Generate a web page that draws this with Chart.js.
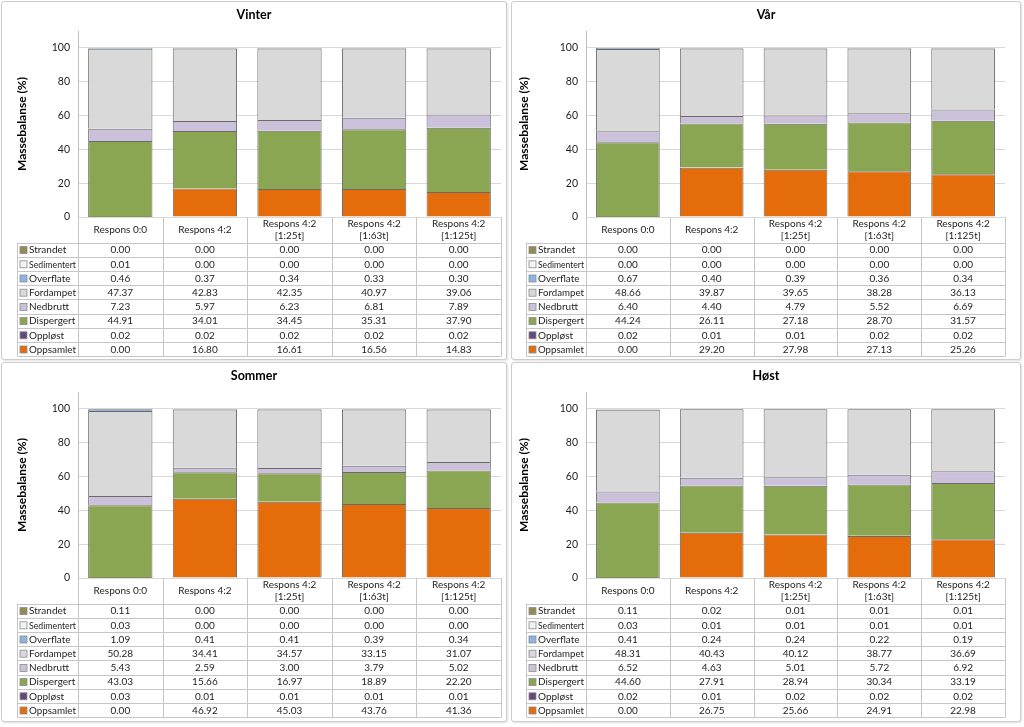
<!DOCTYPE html>
<html><head><meta charset="utf-8">
<script src="https://cdn.jsdelivr.net/npm/chart.js@4.4.1/dist/chart.umd.min.js"></script>
<style>
body{margin:0;background:#fff;width:1024px;height:727px;position:relative;overflow:hidden;font-family:Lato,sans-serif}
.panel{position:absolute;border:1px solid #cdcdcd;border-radius:3px;box-shadow:1px 1px 2px rgba(0,0,0,0.12);background:#fff}
.panel canvas{position:absolute;left:0;top:0}
</style></head><body>
<div class="panel" style="left:1px;top:1px;width:504px;height:357px"><canvas id="c0" width="504" height="357"></canvas></div>
<div class="panel" style="left:511px;top:1px;width:508px;height:357px"><canvas id="c1" width="508" height="357"></canvas></div>
<div class="panel" style="left:1px;top:362px;width:504px;height:358px"><canvas id="c2" width="504" height="358"></canvas></div>
<div class="panel" style="left:511px;top:362px;width:508px;height:358px"><canvas id="c3" width="508" height="358"></canvas></div>
<script>
// ---- categories & labels ----
const categories = [['Respons 0:0'], ['Respons 4:2'], ['Respons 4:2', '[1:25t]'], ['Respons 4:2', '[1:63t]'], ['Respons 4:2', '[1:125t]']];
const seriesNames = ['Strandet', 'Sedimentert', 'Overflate', 'Fordampet', 'Nedbrutt', 'Dispergert', 'Oppløst', 'Oppsamlet'];
const seriesColors = ['#948A54', '#F2F2F2', '#8EB4E3', '#D9D9D9', '#CCC1DA', '#8AA652', '#604A7B', '#E46C0A'];
const yTicks = [0, 20, 40, 60, 80, 100];
const panelTitles = ['Vinter', 'Vår', 'Sommer', 'Høst'];

// ---- Vinter ----
const vinterStrandet    = [0.00, 0.00, 0.00, 0.00, 0.00];
const vinterSedimentert = [0.01, 0.00, 0.00, 0.00, 0.00];
const vinterOverflate   = [0.46, 0.37, 0.34, 0.33, 0.30];
const vinterFordampet   = [47.37, 42.83, 42.35, 40.97, 39.06];
const vinterNedbrutt    = [7.23, 5.97, 6.23, 6.81, 7.89];
const vinterDispergert  = [44.91, 34.01, 34.45, 35.31, 37.90];
const vinterOppløst     = [0.02, 0.02, 0.02, 0.02, 0.02];
const vinterOppsamlet   = [0.00, 16.80, 16.61, 16.56, 14.83];
// ---- Vår ----
const vaarStrandet    = [0.00, 0.00, 0.00, 0.00, 0.00];
const vaarSedimentert = [0.00, 0.00, 0.00, 0.00, 0.00];
const vaarOverflate   = [0.67, 0.40, 0.39, 0.36, 0.34];
const vaarFordampet   = [48.66, 39.87, 39.65, 38.28, 36.13];
const vaarNedbrutt    = [6.40, 4.40, 4.79, 5.52, 6.69];
const vaarDispergert  = [44.24, 26.11, 27.18, 28.70, 31.57];
const vaarOppløst     = [0.02, 0.01, 0.01, 0.02, 0.02];
const vaarOppsamlet   = [0.00, 29.20, 27.98, 27.13, 25.26];
// ---- Sommer ----
const sommerStrandet    = [0.11, 0.00, 0.00, 0.00, 0.00];
const sommerSedimentert = [0.03, 0.00, 0.00, 0.00, 0.00];
const sommerOverflate   = [1.09, 0.41, 0.41, 0.39, 0.34];
const sommerFordampet   = [50.28, 34.41, 34.57, 33.15, 31.07];
const sommerNedbrutt    = [5.43, 2.59, 3.00, 3.79, 5.02];
const sommerDispergert  = [43.03, 15.66, 16.97, 18.89, 22.20];
const sommerOppløst     = [0.03, 0.01, 0.01, 0.01, 0.01];
const sommerOppsamlet   = [0.00, 46.92, 45.03, 43.76, 41.36];
// ---- Høst ----
const hoestStrandet    = [0.11, 0.02, 0.01, 0.01, 0.01];
const hoestSedimentert = [0.03, 0.01, 0.01, 0.01, 0.01];
const hoestOverflate   = [0.41, 0.24, 0.24, 0.22, 0.19];
const hoestFordampet   = [48.31, 40.43, 40.12, 38.77, 36.69];
const hoestNedbrutt    = [6.52, 4.63, 5.01, 5.72, 6.92];
const hoestDispergert  = [44.60, 27.91, 28.94, 30.34, 33.19];
const hoestOppløst     = [0.02, 0.01, 0.02, 0.02, 0.02];
const hoestOppsamlet   = [0.00, 26.75, 25.66, 24.91, 22.98];

const panelSeries = [
  [vinterStrandet, vinterSedimentert, vinterOverflate, vinterFordampet, vinterNedbrutt, vinterDispergert, vinterOppløst, vinterOppsamlet],
  [vaarStrandet, vaarSedimentert, vaarOverflate, vaarFordampet, vaarNedbrutt, vaarDispergert, vaarOppløst, vaarOppsamlet],
  [sommerStrandet, sommerSedimentert, sommerOverflate, sommerFordampet, sommerNedbrutt, sommerDispergert, sommerOppløst, sommerOppsamlet],
  [hoestStrandet, hoestSedimentert, hoestOverflate, hoestFordampet, hoestNedbrutt, hoestDispergert, hoestOppløst, hoestOppsamlet]
];

const FONT = 'Lato, sans-serif';
const TEXT = '#1e1e1e';
const LINE = '#c6c6c6';

const tablePlugin = {
  id: 'dataTable',
  afterDraw(chart, args, opts) {
    const ctx = chart.ctx, ca = chart.chartArea, xs = chart.scales.x;
    const n = categories.length;
    const colW = (ca.right - ca.left) / n;
    const headTop = ca.bottom, headBot = ca.bottom + 25.5, rowH = 14.2;
    const nRows = seriesNames.length;
    const tblBot = headBot + nRows * rowH;
    const legL = opts.legendLeft;
    ctx.save();
    // title
    ctx.fillStyle = '#000';
    ctx.font = 'bold 12.5px ' + FONT;
    ctx.textAlign = 'center'; ctx.textBaseline = 'middle';
    ctx.fillText(opts.title, chart.width / 2, 13);
    // y axis title
    ctx.save();
    ctx.translate(opts.yTitleX, (ca.top + ca.bottom) / 2 + 0);
    ctx.rotate(-Math.PI / 2);
    ctx.font = 'bold 12px ' + FONT;
    ctx.fillText('Massebalanse (%)', 0, 0);
    ctx.restore();
    // grid lines of table
    ctx.strokeStyle = LINE; ctx.lineWidth = 1;
    ctx.beginPath();
    for (let i = 0; i <= n; i++) {
      const xx = Math.round(xs.getPixelForValue(i) - colW / 2) + 0.5;
      const x2 = i === n ? Math.round(ca.right) + 0.5 : xx;
      ctx.moveTo(x2, headTop); ctx.lineTo(x2, tblBot);
    }
    const lx = Math.round(legL) + 0.5;
    ctx.moveTo(lx, headBot); ctx.lineTo(lx, tblBot);
    for (let r = 0; r <= nRows; r++) {
      const yy = Math.round(headBot + r * rowH) + 0.5;
      ctx.moveTo(lx, yy); ctx.lineTo(Math.round(ca.right) + 0.5, yy);
    }
    ctx.stroke();
    // header labels
    ctx.fillStyle = TEXT;
    ctx.font = '10px ' + FONT;
    ctx.textAlign = 'center'; ctx.textBaseline = 'middle';
    categories.forEach((lab, i) => {
      const cx = xs.getPixelForValue(i);
      const mid = (headTop + headBot) / 2;
      if (lab.length === 1) ctx.fillText(lab[0], cx, mid);
      else { ctx.fillText(lab[0], cx, mid - 6); ctx.fillText(lab[1], cx, mid + 6.5); }
    });
    // rows
    const series = opts.series;
    const legW = Math.round(ca.left) - Math.round(legL);
    for (let r = 0; r < nRows; r++) {
      const cy = headBot + r * rowH + rowH / 2 + 0.5;
      ctx.fillStyle = seriesColors[r];
      ctx.fillRect(legL + 3, cy - 3.5, 7, 7);
      ctx.strokeStyle = '#8c8c8c'; ctx.lineWidth = 0.8;
      ctx.strokeRect(legL + 3, cy - 3.5, 7, 7);
      ctx.fillStyle = TEXT;
      ctx.textAlign = 'left';
      ctx.fillText(seriesNames[r], legL + 12, cy, legW - 14);
      ctx.textAlign = 'center';
      series[r].forEach((v, i) => ctx.fillText(v.toFixed(2), xs.getPixelForValue(i), cy));
    }
    ctx.restore();
  }
};

function makeChart(id, idx) {
  const canvas = document.getElementById(id);
  const W = canvas.width, H = canvas.height;
  const isRight = idx % 2 === 1;
  const left = isRight ? 74 : 76;
  const right = isRight ? 493 : 499;
  const top = 29, bottom = 215;
  const series = panelSeries[idx];
  const datasets = [];
  for (let r = seriesNames.length - 1; r >= 0; r--) {
    datasets.push({
      label: seriesNames[r],
      data: series[r],
      backgroundColor: seriesColors[r],
      borderColor: '#6a6a6a',
      borderWidth: 1,
      barPercentage: 0.76,
      categoryPercentage: 1.0
    });
  }
  new Chart(canvas, {
    type: 'bar',
    data: { labels: categories.map(c => c.join(' ')), datasets },
    options: {
      responsive: false, animation: false,
      layout: { padding: { left: 0, right: W - right, top: top, bottom: H - bottom } },
      plugins: {
        legend: { display: false }, tooltip: { enabled: false },
        dataTable: { title: panelTitles[idx], series, legendLeft: isRight ? 14 : 15, yTitleX: isRight ? 12 : 20 }
      },
      scales: {
        x: { stacked: true, display: false, offset: true },
        y: {
          stacked: true, min: 0, max: 110,
          afterBuildTicks: s => { s.ticks = yTicks.map(v => ({ value: v })); },
          afterFit: s => { s.width = left; },
          grid: { color: '#d9d9d9', drawTicks: false },
          border: { display: true, color: '#bfbfbf' },
          ticks: { padding: 8, color: TEXT, font: { family: FONT, size: 10.5 } }
        }
      }
    },
    plugins: [tablePlugin]
  });
}
['c0', 'c1', 'c2', 'c3'].forEach((id, i) => makeChart(id, i));
</script>
</body></html>
